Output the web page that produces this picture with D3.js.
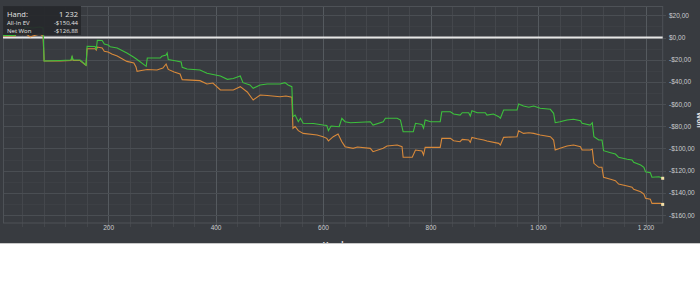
<!DOCTYPE html>
<html lang="en">
<head>
<meta charset="UTF-8">
<title>Hands graph</title>
<style>
  body { margin: 0; background: #fff; }
  svg { display: block; font-family: "Open Sans", "DejaVu Sans", sans-serif; }
</style>
</head>
<body>
<svg id="chart" width="700" height="295"></svg>
<script src="https://cdn.jsdelivr.net/npm/d3@7"></script>
<script>
/* global d3 */

// hand numbers and running totals
var netHands = [4.5, 27, 29, 44, 45, 60, 73, 79, 81, 111, 131, 133, 135, 148, 157, 159, 161, 176, 178, 180,
  189, 193, 200, 204, 217, 235, 248, 254, 271, 273, 297, 300, 308, 310, 312, 327, 336, 338, 347, 371,
  384, 409, 422, 433, 446, 451, 464, 470, 483, 496, 520, 529, 535, 542, 544, 548, 554, 558, 563, 582,
  600, 607, 610, 615, 630, 635, 641, 651, 688, 693, 712, 716, 738, 744, 749, 768, 772, 784, 787, 790,
  800, 818, 821, 837, 843, 855, 859, 871, 874, 877, 887, 902, 905, 917, 927, 930, 936, 961, 964, 973,
  983, 992, 1004, 1023, 1029, 1032, 1041, 1054, 1066, 1079, 1082, 1097, 1101, 1104, 1113, 1119, 1122, 1135, 1144, 1150,
  1166, 1175, 1178, 1191, 1197, 1200, 1209, 1212, 1225, 1232];
var netWon = [1.8, 1.8, 5.9, 5.9, 9.5, 8.6, 9.5, 8.6, -21.2, -20.7, -20.3, -17.1, -20.3, -20.3, -23.9, -25, -7.9, -8.1, -11, -2.5,
  -2.7, -5.9, -6.8, -8.3, -9.5, -14, -17.8, -19.8, -26, -18.5, -18.5, -16.9, -15.8, -14, -19.8, -21.2, -22.1, -26.9, -28.4, -29.3,
  -32.3, -34.7, -37.7, -37, -34.7, -40.7, -42.8, -45.8, -42.8, -41.9, -41.9, -40.7, -42.8, -44.3, -71.4, -69.9, -75.9, -72.8, -77.3, -77.5,
  -78.9, -79.3, -84, -79.8, -80.4, -72.8, -75.9, -76.8, -75.9, -78.9, -75.9, -72.8, -72.8, -74.4, -84.9, -84.9, -77.3, -78.4, -81.8, -74.4,
  -75.9, -75.9, -66.9, -66.9, -69, -69.9, -67.8, -67.8, -70.8, -66, -67.8, -67.8, -69.9, -69, -71.4, -72.8, -65.4, -65.4, -59.9, -61.7,
  -62.9, -61.7, -63.8, -64.7, -68.3, -76.8, -75.9, -74.4, -73.7, -75, -77.3, -78.9, -76.8, -89.4, -92.4, -92.4, -102, -103.8, -105, -108,
  -109.8, -110.4, -112.5, -114.9, -117, -121, -121.9, -126, -125.5, -126.88];

var evHands = [4.5, 27, 29, 44, 45, 55, 60, 73, 79, 81, 111, 131, 133, 135, 148, 157, 159, 161, 176, 178,
  180, 189, 193, 200, 207, 217, 235, 248, 252, 254, 262, 273, 291, 302, 308, 312, 323, 334, 338, 371,
  384, 395, 409, 433, 446, 459, 470, 483, 496, 520, 531, 542, 544, 548, 554, 563, 589, 600, 607, 610,
  619, 628, 635, 641, 656, 664, 688, 693, 712, 719, 738, 747, 749, 766, 772, 784, 787, 790, 818, 821,
  837, 843, 855, 859, 871, 874, 877, 887, 899, 905, 927, 930, 936, 961, 964, 973, 983, 992, 1004, 1023,
  1029, 1032, 1041, 1054, 1066, 1079, 1082, 1097, 1101, 1104, 1113, 1119, 1122, 1135, 1144, 1150, 1166, 1175, 1178, 1191,
  1197, 1200, 1209, 1212, 1228, 1232];
var allInEV = [1.4, 1.4, 3.2, 3.2, 4.1, 0.5, 1.4, 3.2, 1.4, -21.2, -21.2, -20.7, -17.6, -20.7, -20.7, -24.3, -25, -10.1, -10.1, -11.3,
  -8.6, -9.5, -12.4, -13.1, -14.9, -16.7, -21.5, -23, -26.6, -30.5, -29.7, -28.8, -29.3, -27.5, -23.9, -28.8, -31.1, -32.9, -38, -38.9,
  -41.9, -41, -47.3, -47.3, -44.3, -49.1, -56.3, -51.8, -52.3, -53.4, -52.7, -53.9, -81.8, -80.2, -84, -86.4, -87.9, -89.4, -90.9, -93.3,
  -89.4, -87, -93.9, -98.4, -99.9, -98.7, -99.9, -102.9, -99.9, -97.8, -96.9, -98.4, -108, -108, -101.4, -102.3, -105.9, -99, -99, -90.9,
  -90.9, -93, -93.9, -91.8, -92.4, -94.5, -90, -91.2, -92.4, -93.3, -95.4, -96.9, -90, -89.4, -84, -86.4, -85.8, -86.4, -87.9, -89.4,
  -92.4, -101.4, -99.9, -97.8, -96.9, -98.4, -101.4, -101.4, -100.8, -113.4, -117, -117, -126, -127.8, -129.1, -132.1, -133.9, -135, -136.8, -139,
  -141.1, -144.9, -145.8, -149.5, -149.5, -150.44];

var yTicks = [20, 0, -20, -40, -60, -80, -100, -120, -140, -160];
var xTicks = [200, 400, 600, 800, 1000, 1200];

var svg = d3.select("#chart");

var x = d3.scaleLinear().domain([4.5, 1232]).range([3, 662.7]);
var y = d3.scaleLinear().domain([-167.2, 28.4]).range([223, 6]);

var money = function(v) {
    return (v < 0 ? "-" : "") + "$" + d3.format(".2f")(Math.abs(v)).replace(".", ",");
};
var hands = function(v) { return d3.format(",")(v).replace(/,/g, " "); };

// dark panel
svg.append("defs").append("clipPath").attr("id", "panel")
    .append("rect").attr("width", 700).attr("height", 243);
svg.append("rect").attr("width", 700).attr("height", 243).attr("fill", "#383b40");
svg.append("line").attr("x1", 0).attr("x2", 700).attr("y1", 243.5).attr("y2", 243.5)
    .attr("stroke", "#c8c8c8");

var grid = svg.append("g");

// minor grid
d3.range(-160, 30, 10).forEach(function(v) {
    if (v % 20 === 0) return;
    grid.append("line").attr("x1", 3).attr("x2", 662.7)
        .attr("y1", Math.round(y(v)) + 0.5).attr("y2", Math.round(y(v)) + 0.5)
        .attr("stroke", "#3d4045");
});
d3.range(40, 1232, 40).forEach(function(v) {
    var px = Math.round(x(v)) + 0.5;
    grid.append("line").attr("x1", px).attr("x2", px).attr("y1", 6).attr("y2", 227)
        .attr("stroke", v % 200 === 0 ? "#555a5f" : "#44474c");
});
yTicks.forEach(function(v) {
    grid.append("line").attr("x1", 3).attr("x2", 666)
        .attr("y1", Math.round(y(v)) + 0.5).attr("y2", Math.round(y(v)) + 0.5)
        .attr("stroke", "#4a4e53");
});

// frame
grid.append("rect").attr("x", 3.5).attr("y", 6.5).attr("width", 659.2).attr("height", 216.5)
    .attr("fill", "none").attr("stroke", "#4e5257");

// axes labels
var yAxis = d3.axisRight(y).tickValues(yTicks).tickFormat(money).tickSize(0).tickPadding(0);
var ya = svg.append("g").attr("transform", "translate(669,0)").call(yAxis);
ya.select(".domain").remove();
ya.selectAll("text").attr("fill", "#c9cbce").attr("font-size", "6.5px").attr("font-family", null);

var xAxis = d3.axisBottom(x).tickValues(xTicks).tickFormat(hands).tickSize(0).tickPadding(0);
var xa = svg.append("g").attr("transform", "translate(0,223)").call(xAxis);
xa.select(".domain").remove();
xa.selectAll("text").attr("fill", "#c9cbce").attr("font-size", "6.5px").attr("font-family", null)
    .attr("dy", "1.1em");

var titles = svg.append("g").attr("clip-path", "url(#panel)")
    .attr("fill", "#e0e0e0").attr("font-size", "8px").attr("font-weight", "bold");
titles.append("text").attr("x", 335).attr("y", 248).attr("text-anchor", "middle").text("Hands");
titles.append("text").attr("transform", "translate(697,120) rotate(90)")
    .attr("font-size", "7px").attr("text-anchor", "middle").text("Won");

// zero line
svg.append("line").attr("x1", 3).attr("x2", 662.7).attr("y1", y(0)).attr("y2", y(0))
    .attr("stroke", "#e6e6e6").attr("stroke-width", 2);

var line = d3.line().x(function(d) { return x(d[0]); }).y(function(d) { return y(d[1]); });
var evData = evHands.map(function(h, i) { return [h, allInEV[i]]; });
var netData = netHands.map(function(h, i) { return [h, netWon[i]]; });

svg.append("path").datum(evData).attr("d", line)
    .attr("fill", "none").attr("stroke", "#d8893a").attr("stroke-width", 1.1);
svg.append("path").datum(netData).attr("d", line)
    .attr("fill", "none").attr("stroke", "#3cc03c").attr("stroke-width", 1.1);

[evData[evData.length - 1], netData[netData.length - 1]].forEach(function(d) {
    svg.append("rect").attr("x", x(d[0]) - 1.5).attr("y", y(d[1]) - 1.5)
        .attr("width", 3).attr("height", 3).attr("fill", "#f3dfa8");
});

// tooltip
var tip = svg.append("g").attr("transform", "translate(3,6)");
tip.append("rect").attr("width", 78).attr("height", 29).attr("fill", "#26282b").attr("opacity", 0.92);
var rows = [["Hand:", hands(1232), 10.5, "7.5px"],
            ["All-In EV", money(allInEV[allInEV.length - 1]), 19, "6px"],
            ["Net Won", money(netWon[netWon.length - 1]), 26.5, "6px"]];
rows.forEach(function(r) {
    tip.append("text").attr("x", 4).attr("y", r[2]).attr("font-size", r[3])
        .attr("fill", "#e4e4e4").text(r[0]);
    tip.append("text").attr("x", 75).attr("y", r[2]).attr("font-size", r[3])
        .attr("text-anchor", "end").attr("fill", "#e4e4e4").text(r[1]);
});
</script>
</body>
</html>
